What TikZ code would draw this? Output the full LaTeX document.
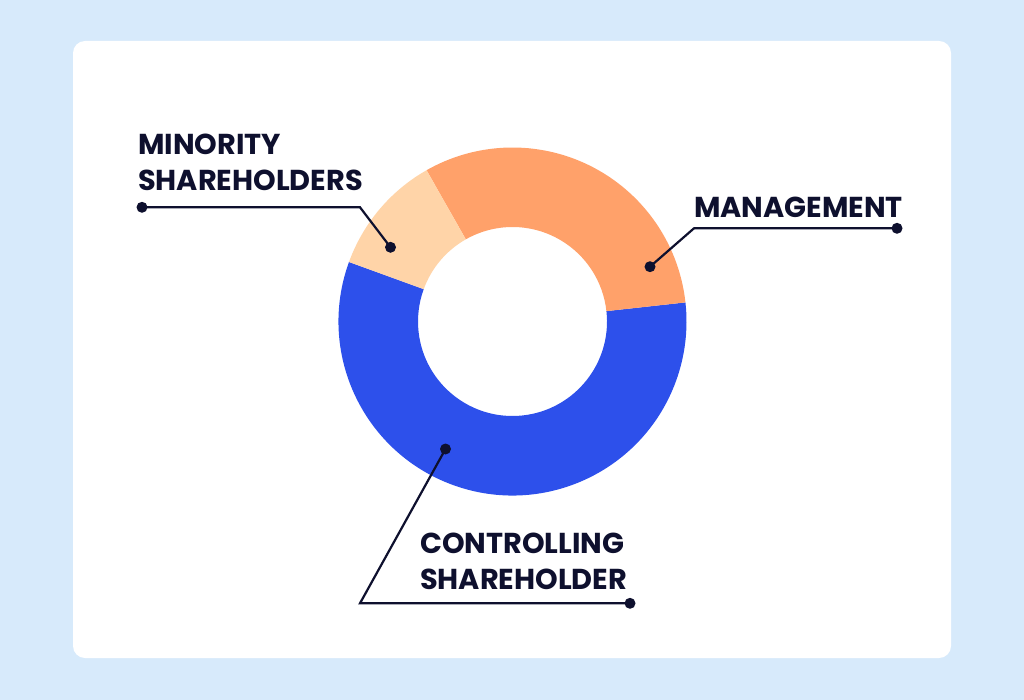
\documentclass[tikz,border=0pt]{standalone}
\usepackage{fontspec}
\setmainfont{Poppins}
\usepackage{tikz}

\definecolor{bgblue}{RGB}{215,234,251}
\definecolor{navy}{RGB}{14,16,46}
\definecolor{ctrlblue}{RGB}{45,80,235}
\definecolor{mgmtorange}{RGB}{255,161,106}
\definecolor{minpeach}{RGB}{255,212,168}

\tikzset{
	lbl/.style={anchor=base west, inner sep=0pt, text=navy, font=\fontsize{28.8}{34}\selectfont\bfseries},
	dot/.style={shape=circle, fill=navy, inner sep=0pt, minimum size=11pt},
	leader/.style={draw=navy, line width=2.2pt}
}

\begin{document}
\begin{tikzpicture}[x=1pt, y=-1pt]

	\fill[bgblue] (0,0) rectangle (1024,700);
	\useasboundingbox (0,0) rectangle (1024,700);
	\fill[white, rounded corners=12pt] (73,41) rectangle (951,658);

	% donut
	\begin{scope}[shift={(512.5,321.5)}, yscale=-1]
		\fill[ctrlblue] (160:174) arc[start angle=160, end angle=366.3, radius=174] -- (366.3:94.5) arc[start angle=366.3, end angle=160, radius=94.5] -- cycle;
		\fill[mgmtorange] (6.3:174) arc[start angle=6.3, end angle=119.6, radius=174] -- (119.6:94.5) arc[start angle=119.6, end angle=6.3, radius=94.5] -- cycle;
		\fill[minpeach] (119.6:174) arc[start angle=119.6, end angle=160, radius=174] -- (160:94.5) arc[start angle=160, end angle=119.6, radius=94.5] -- cycle;
	\end{scope}

	\node[lbl] (min1) at (138,155)     {MINORITY};
	\node[lbl] (min2) at (138,190.7)   {SHAREHOLDERS};
	\node[lbl] (mgmt) at (694,217.3)   {MANAGEMENT};
	\node[lbl] (ctrl1) at (420,553)    {CONTROLLING};
	\node[lbl] (ctrl2) at (420,589)    {SHAREHOLDER};

	\node[dot] (minEnd) at (142,207.3)  {};
	\node[dot] (minDot) at (390.5,247.3) {};
	\node[dot] (mgmtEnd) at (897,228.3) {};
	\node[dot] (mgmtDot) at (650,266.7) {};
	\node[dot] (ctrlEnd) at (630,603.3) {};
	\node[dot] (ctrlDot) at (445.5,449) {};

	\coordinate (minBend) at (360,207.3);
	\coordinate (mgmtBend) at (694,228.3);
	\coordinate (ctrlBend) at (360,603.3);

	\path[leader] (minEnd.center) -- (minBend) -- (minDot.center);
	\path[leader] (mgmtEnd.center) -- (mgmtBend) -- (mgmtDot.center);
	\path[leader] (ctrlEnd.center) -- (ctrlBend) -- (ctrlDot.center);

\end{tikzpicture}
\end{document}
